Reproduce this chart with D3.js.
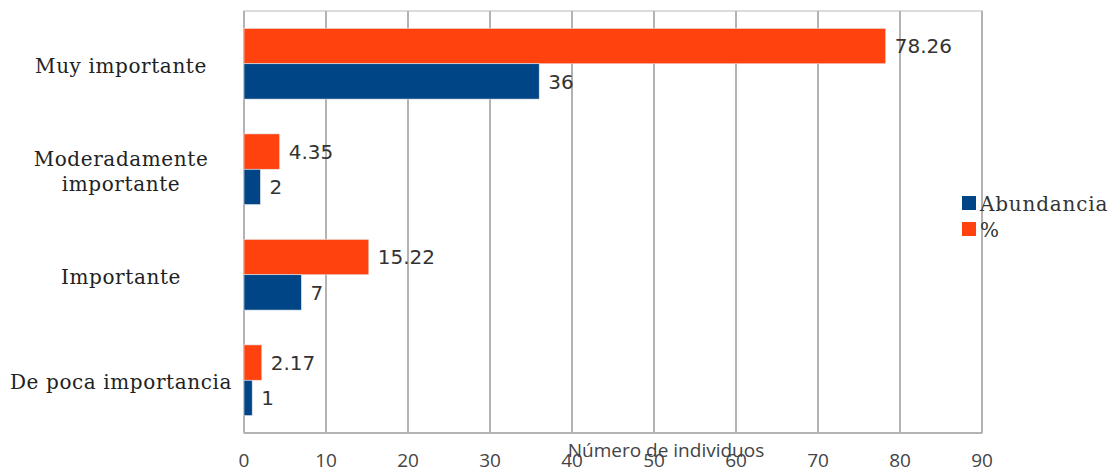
<!DOCTYPE html>
<html><head><meta charset="utf-8">
<script src="https://cdn.jsdelivr.net/npm/d3@7"></script>
<style>body{margin:0;background:#fff}svg{display:block}</style>
</head><body>
<svg id="c" width="1116" height="474"></svg>
<script>
const categories = ["Muy importante", "Moderadamente importante", "Importante", "De poca importancia"];
const catLines = [["Muy importante"], ["Moderadamente", "importante"], ["Importante"], ["De poca importancia"]];
const abundancia = [36, 2, 7, 1];
const porcentaje = [78.26, 4.35, 15.22, 2.17];
const seriesNames = ["Abundancia", "%"];
const xTicks = [0, 10, 20, 30, 40, 50, 60, 70, 80, 90];
const xTitle = "Número de individuos";

const colors = {"Abundancia": "#004586", "%": "#ff420e"};
const svg = d3.select("#c");
const L = 244, R = 982, T = 11, B = 433;
const x = d3.scaleLinear().domain([0, 90]).range([L, R]);
const y = d3.scaleBand().domain(categories).range([T, B]).paddingInner(0.33).paddingOuter(0.165);
const sub = d3.scaleBand().domain(["%", "Abundancia"]).range([0, y.bandwidth()]);

// frame & grid
svg.append("rect").attr("x", L).attr("y", T).attr("width", R - L).attr("height", B - T)
  .attr("fill", "none").attr("stroke", "#d0d0d0").attr("stroke-width", 1.5);
svg.append("g").selectAll("line").data(xTicks).join("line")
  .attr("x1", d => x(d)).attr("x2", d => x(d)).attr("y1", T).attr("y2", B)
  .attr("stroke", "#b3b3b3").attr("stroke-width", 2);
svg.append("line").attr("x1", L).attr("x2", R).attr("y1", B).attr("y2", B)
  .attr("stroke", "#b3b3b3").attr("stroke-width", 2);

const data = categories.map((c, i) => ({c, vals: [{s: "%", v: porcentaje[i]}, {s: "Abundancia", v: abundancia[i]}]}));
const g = svg.append("g").selectAll("g").data(data).join("g")
  .attr("transform", d => `translate(0,${y(d.c)})`);
g.selectAll("rect").data(d => d.vals).join("rect")
  .attr("x", x(0)).attr("y", d => sub(d.s)).attr("width", d => x(d.v) - x(0)).attr("height", sub.bandwidth())
  .attr("fill", d => colors[d.s]).attr("stroke", "#e8e8e8").attr("stroke-width", 0.6);
g.selectAll("text").data(d => d.vals).join("text")
  .attr("x", d => x(d.v) + 9).attr("y", d => sub(d.s) + sub.bandwidth() / 2)
  .attr("dy", "0.36em").attr("font-family", "DejaVu Sans").attr("font-size", 20).attr("fill", "#333")
  .text(d => String(d.v));

// category labels
svg.append("g").selectAll("text").data(categories).join("text")
  .attr("text-anchor", "middle").attr("font-family", "DejaVu Serif").attr("font-size", 20)
  .attr("letter-spacing", 0.6).attr("fill", "#222")
  .attr("transform", (d, i) => `translate(121,${y(d) + y.bandwidth() / 2 - (catLines[i].length - 1) * 12.5})`)
  .each(function(d, i) {
    d3.select(this).selectAll("tspan").data(catLines[i]).join("tspan")
      .attr("x", 0).attr("dy", (t, j) => j === 0 ? "0.45em" : "1.25em").text(t => t);
  });

// x tick labels
svg.append("g").selectAll("text").data(xTicks).join("text")
  .attr("x", d => x(d)).attr("y", 467).attr("text-anchor", "middle")
  .attr("font-family", "Open Sans").attr("font-size", 19).attr("fill", "#444").text(d => d);

svg.append("text").attr("x", 666).attr("y", 457).attr("text-anchor", "middle")
  .attr("font-family", "Open Sans").attr("font-size", 19).attr("fill", "#444").text(xTitle);

// legend
const lg = svg.append("g").selectAll("g").data(seriesNames).join("g")
  .attr("transform", (d, i) => `translate(962,${196 + i * 26})`);
lg.append("rect").attr("width", 14).attr("height", 14).attr("fill", d => colors[d]);
lg.append("text").attr("x", 18).attr("y", 7).attr("dy", "0.4em")
  .attr("font-family", "DejaVu Serif").attr("font-size", 20).attr("letter-spacing", 0.8)
  .attr("fill", "#333").text(d => d);
</script>
</body></html>
